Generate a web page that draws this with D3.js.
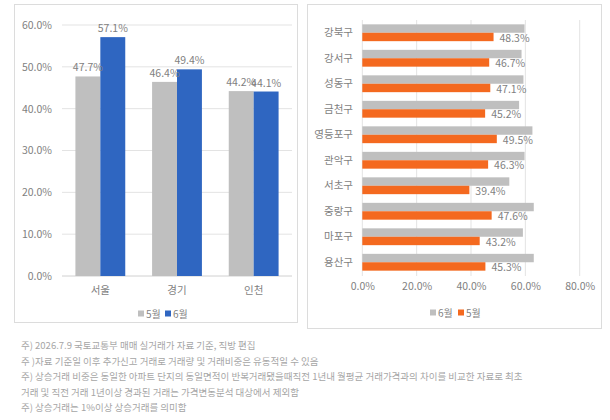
<!DOCTYPE html>
<html>
<head>
<meta charset="utf-8">
<script src="https://cdn.jsdelivr.net/npm/d3@7"></script>
<style>
  body { margin: 0; background: #fff; }
  text { font-family: "Noto Sans CJK KR", "Noto Sans", sans-serif; }
</style>
</head>
<body>
<div id="canvas"></div>
<script>
"use strict"

let svgWidth = 610
let svgHeight = 420

// left chart: 지역별 (5월, 6월)
let regions = ["서울", "경기", "인천"]
let regionSeries = ["5월", "6월"]
let regionMay = [0.477, 0.464, 0.442]
let regionJun = [0.571, 0.494, 0.441]

// right chart: 서울 자치구 (6월, 5월) - only 5월 carries labels
let districts = ["강북구", "강서구", "성동구", "금천구", "영등포구", "관악구", "서초구", "중랑구", "마포구", "용산구"]
let districtSeries = ["6월", "5월"]
let districtJun = [0.597, 0.586, 0.593, 0.577, 0.626, 0.597, 0.541, 0.631, 0.591, 0.631]
let districtMay = [0.483, 0.467, 0.471, 0.452, 0.495, 0.463, 0.394, 0.476, 0.432, 0.453]

let leftTicks = [0, 0.1, 0.2, 0.3, 0.4, 0.5, 0.6]
let rightTicks = [0, 0.2, 0.4, 0.6, 0.8]

let notes = [
    "주) 2026.7.9 국토교통부 매매 실거래가 자료 기준, 직방 편집",
    "주 )자료 기준일 이후 추가신고 거래로 거래량 및 거래비중은 유동적일 수 있음",
    "주) 상승거래 비중은 동일한 아파트 단지의 동일면적이 반복거래됐을때직전 1년내 월평균 거래가격과의 차이를 비교한 자료로 최초",
    "거래 및 직전 거래 1년이상 경과된 거래는 가격변동분석 대상에서 제외함",
    "주) 상승거래는 1%이상 상승거래를 의미함"
]

let gray = "#bfbfbf"
let blue = "#2f66c1"
let orange = "#f4691f"
let textColor = "#7f7f7f"
let gridColor = "#e3e3e3"

let fmt = d3.format(".1%")

let svg = d3.select("#canvas")
    .append("svg")
    .attr("width", svgWidth)
    .attr("height", svgHeight)

// panel frames
svg.append("rect")
    .attr("x", 14.5).attr("y", 4.5)
    .attr("width", 283).attr("height", 318)
    .attr("fill", "none").attr("stroke", "#dcdcdc")

svg.append("rect")
    .attr("x", 307.5).attr("y", 4.5)
    .attr("width", 294).attr("height", 324)
    .attr("fill", "none").attr("stroke", "#dcdcdc")

/* ---------- left chart ---------- */
let left = svg.append("g")

let yLeft = d3.scaleLinear().domain([0, 0.6]).range([276, 25])
let xLeft = d3.scaleBand().domain(regions).range([62, 292])
    .paddingInner(0.35).paddingOuter(0.175)
let xSub = d3.scaleBand().domain(regionSeries).range([0, xLeft.bandwidth()])

left.selectAll("line.grid")
    .data(leftTicks)
    .join("line")
    .attr("class", "grid")
    .attr("x1", 62).attr("x2", 292)
    .attr("y1", d => yLeft(d)).attr("y2", d => yLeft(d))
    .attr("stroke", d => d === 0 ? "#d0d0d0" : gridColor)

let yAxisL = d3.axisLeft(yLeft).tickValues(leftTicks).tickFormat(fmt).tickSize(0).tickPadding(0)
left.append("g")
    .attr("transform", "translate(52,0)")
    .call(yAxisL)
    .call(g => g.select(".domain").remove())
    .selectAll("text")
    .attr("fill", textColor)
    .style("font-size", "10.5px")

let xAxisL = d3.axisBottom(xLeft).tickSize(0).tickPadding(0)
left.append("g")
    .attr("transform", "translate(0,287)")
    .call(xAxisL)
    .call(g => g.select(".domain").remove())
    .selectAll("text")
    .attr("fill", textColor)
    .style("font-size", "10.5px")

let leftRows = regions.map((r, i) => [
    { region: r, series: "5월", value: regionMay[i], color: gray },
    { region: r, series: "6월", value: regionJun[i], color: blue }
]).flat()

left.selectAll("rect.bar")
    .data(leftRows)
    .join("rect")
    .attr("class", "bar")
    .attr("x", d => xLeft(d.region) + xSub(d.series))
    .attr("width", xSub.bandwidth())
    .attr("y", d => yLeft(d.value))
    .attr("height", d => yLeft(0) - yLeft(d.value))
    .attr("fill", d => d.color)

left.selectAll("text.lbl")
    .data(leftRows)
    .join("text")
    .attr("class", "lbl")
    .attr("x", d => xLeft(d.region) + xSub(d.series) + xSub.bandwidth() / 2)
    .attr("y", d => yLeft(d.value) - 5)
    .attr("text-anchor", "middle")
    .attr("fill", textColor)
    .style("font-size", "10.5px")
    .text(d => fmt(d.value))

// left legend
let legL = left.append("g").attr("transform", "translate(138,314)")
regionSeries.forEach(function (s, i) {
    let gx = i * 27
    legL.append("rect")
        .attr("x", gx).attr("y", -3.5).attr("width", 6).attr("height", 6)
        .attr("fill", i === 0 ? gray : blue)
    legL.append("text")
        .attr("x", gx + 8).attr("y", 3.5)
        .attr("fill", textColor)
        .style("font-size", "10px")
        .text(s)
})

/* ---------- right chart ---------- */
let right = svg.append("g")

let xRight = d3.scaleLinear().domain([0, 0.8]).range([362.3, 579.7])
let yRight = d3.scaleBand().domain(districts).range([20, 275])
    .paddingInner(0.34).paddingOuter(0.17)
let ySub = d3.scaleBand().domain(districtSeries).range([0, yRight.bandwidth()])

right.selectAll("line.grid")
    .data(rightTicks)
    .join("line")
    .attr("class", "grid")
    .attr("x1", d => xRight(d)).attr("x2", d => xRight(d))
    .attr("y1", 20).attr("y2", 276)
    .attr("stroke", gridColor)

let xAxisR = d3.axisBottom(xRight).tickValues(rightTicks).tickFormat(fmt).tickSize(0).tickPadding(0)
right.append("g")
    .attr("transform", "translate(0,283)")
    .call(xAxisR)
    .call(g => g.select(".domain").remove())
    .selectAll("text")
    .attr("fill", textColor)
    .style("font-size", "10.5px")

let yAxisR = d3.axisLeft(yRight).tickSize(0).tickPadding(0)
right.append("g")
    .attr("transform", "translate(353,0)")
    .call(yAxisR)
    .call(g => g.select(".domain").remove())
    .selectAll("text")
    .attr("fill", textColor)
    .style("font-size", "10.5px")

let rightRows = districts.map((d, i) => [
    { district: d, series: "6월", value: districtJun[i], color: gray },
    { district: d, series: "5월", value: districtMay[i], color: orange }
]).flat()

right.selectAll("rect.bar")
    .data(rightRows)
    .join("rect")
    .attr("class", "bar")
    .attr("x", xRight(0))
    .attr("width", d => xRight(d.value) - xRight(0))
    .attr("y", d => yRight(d.district) + ySub(d.series))
    .attr("height", ySub.bandwidth())
    .attr("fill", d => d.color)

right.selectAll("text.lbl")
    .data(rightRows.filter(d => d.series === "5월"))
    .join("text")
    .attr("class", "lbl")
    .attr("x", d => xRight(d.value) + 6)
    .attr("y", d => yRight(d.district) + ySub(d.series) + ySub.bandwidth() / 2 + 5)
    .attr("fill", textColor)
    .style("font-size", "10.5px")
    .text(d => fmt(d.value))

// right legend
let legR = right.append("g").attr("transform", "translate(430,313)")
districtSeries.forEach(function (s, i) {
    let gx = i * 28
    legR.append("rect")
        .attr("x", gx).attr("y", -3.5).attr("width", 6).attr("height", 6)
        .attr("fill", i === 0 ? gray : orange)
    legR.append("text")
        .attr("x", gx + 8).attr("y", 3.5)
        .attr("fill", textColor)
        .style("font-size", "10px")
        .text(s)
})

/* ---------- footnotes ---------- */
svg.selectAll("text.note")
    .data(notes)
    .join("text")
    .attr("class", "note")
    .attr("x", 21)
    .attr("y", (d, i) => 349 + i * 15.5)
    .attr("fill", "#a6a6a6")
    .style("font-size", "9.5px")
    .text(d => d)
</script>
</body>
</html>
